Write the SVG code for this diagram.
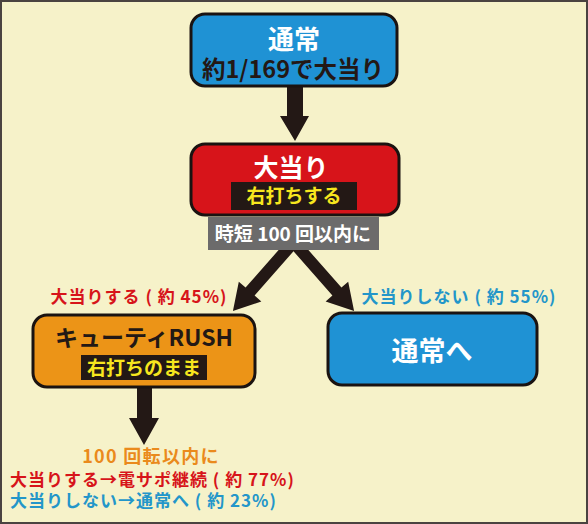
<svg xmlns="http://www.w3.org/2000/svg" width="588" height="524" viewBox="0 0 588 524">
<style>
text{font-family:"Noto Sans CJK JP","Noto Sans",sans-serif;font-weight:bold;text-anchor:middle}
.node{stroke:#1a1311;stroke-width:3}
.arrow{fill:#231815}
.w{fill:#ffffff}
.d{fill:#231815}
.y{fill:#f7e61e}
.r{fill:#d7141a}
.b{fill:#2396c9}
.o{fill:#ea8a1c}
.lab{fill:#231815}
.s{font-size:17px;letter-spacing:1px}
</style>
<rect x="1" y="1" width="586" height="522" fill="#f6f2c9" stroke="#4a4340" stroke-width="2"/>
<g id="connectors">
<polygon class="arrow" points="287,86 303,86 303,116 309,116 295,141 280,116 287,116"/>
<polygon class="arrow" points="0,-6 62,-6 62,-15 88,0 62,15 62,6 0,6" transform="translate(291,245) rotate(131.3)"/>
<polygon class="arrow" points="0,-6 62,-6 62,-15 88,0 62,15 62,6 0,6" transform="translate(296,245) rotate(48.7)"/>
<polygon class="arrow" points="137,387 152,387 152,418 159,418 144,445 129,418 137,418"/>
</g>
<g id="n_normal">
<rect class="node" x="191" y="14" width="206" height="72" rx="14" fill="#1f92d4"/>
<text class="w" x="294" y="49" font-size="26">通常</text>
<text class="d" x="293" y="78" font-size="23.5">約1/169で大当り</text>
</g>
<g id="n_jackpot">
<rect class="node" x="191" y="144" width="208" height="71" rx="14" fill="#d7141a"/>
<text class="w" x="291" y="177" font-size="25">大当り</text>
<rect class="lab" x="231" y="182" width="126" height="28"/>
<text class="y" x="294" y="203" font-size="19">右打ちする</text>
</g>
<g id="n_jitan">
<rect x="208" y="217" width="171" height="33" fill="#6c6b6b"/>
<text class="w" x="293" y="241" font-size="19">時短 100 回以内に</text>
</g>
<g id="n_rush">
<rect class="node" x="33" y="315" width="222" height="72" rx="14" fill="#ec9417"/>
<text class="d" x="144" y="346" font-size="23">キューティRUSH</text>
<rect class="lab" x="81" y="355" width="126" height="25"/>
<text class="y" x="144" y="375" font-size="19">右打ちのまま</text>
</g>
<g id="n_back">
<rect class="node" x="328" y="313" width="209" height="72" rx="14" fill="#1f92d4"/>
<text class="w" x="432" y="361" font-size="27">通常へ</text>
</g>
<g id="labels">
<text class="r s" x="139" y="303">大当りする ( 約 45%)</text>
<text class="b s" x="459" y="303">大当りしない ( 約 55%)</text>
<text class="o" x="151" y="463" font-size="18" letter-spacing="1.3">100 回転以内に</text>
<text class="r s" x="10" y="486" style="text-anchor:start">大当りする→電サポ継続 ( 約 77%)</text>
<text class="b s" x="10" y="507" style="text-anchor:start">大当りしない→通常へ ( 約 23%)</text>
</g>
</svg>
